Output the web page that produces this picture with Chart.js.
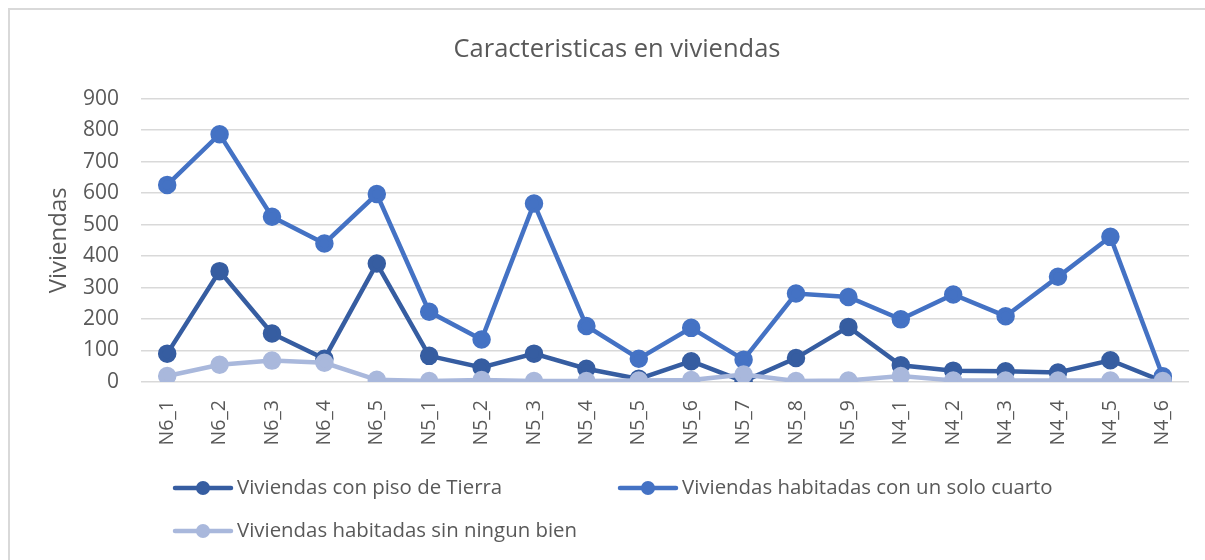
<!DOCTYPE html>
<html>
<head>
<meta charset="utf-8">
<script src="https://cdn.jsdelivr.net/npm/chart.js@4.4.0/dist/chart.umd.min.js"></script>
<style>
    body { margin: 0; background: #fff; }
    #wrap { position: relative; width: 1205px; height: 560px; overflow: hidden; }
    #frame {
        position: absolute; left: 8px; top: 8px; width: 1300px; height: 700px;
        border-top: 2px solid #d9d9d9; border-left: 2px solid #d9d9d9;
    }
    canvas { position: absolute; left: 0; top: 0; }
</style>
</head>
<body>
<div id="wrap">
    <div id="frame"></div>
    <canvas id="chart" width="1205" height="560"></canvas>
</div>
<script>
// 데이터
const categories = ['N6_1', 'N6_2', 'N6_3', 'N6_4', 'N6_5', 'N5_1', 'N5_2', 'N5_3', 'N5_4', 'N5_5',
    'N5_6', 'N5_7', 'N5_8', 'N5_9', 'N4_1', 'N4_2', 'N4_3', 'N4_4', 'N4_5', 'N4_6'];
const pisoTierra = [90, 352, 154, 74, 376, 83, 46, 90, 42, 10, 66, 2, 76, 175, 53, 36, 34, 30, 69, 2];
const soloCuarto = [626, 787, 525, 440, 597, 223, 135, 567, 178, 74, 172, 71, 281, 270, 199, 278, 209, 334, 461, 18];
const sinBien = [19, 55, 68, 61, 7, 3, 6, 3, 3, 5, 6, 24, 3, 5, 19, 5, 5, 5, 5, 3];
const yTicks = [0, 100, 200, 300, 400, 500, 600, 700, 800, 900];

const seriesNames = ['Viviendas con piso de Tierra', 'Viviendas habitadas con un solo cuarto', 'Viviendas habitadas sin ningun bien'];
const seriesColors = ['#365DA1', '#4472C4', '#A9B8DC'];

const FONT = '"Open Sans", "Liberation Sans", sans-serif';
const GREY = '#595959';

// 범례 (Excel 스타일 2열)
const legendSlots = [{ x: 175, y: 488 }, { x: 620, y: 488 }, { x: 175, y: 531 }];
const excelLegend = {
    id: 'excelLegend',
    afterDraw(chart) {
        const ctx = chart.ctx;
        ctx.save();
        chart.data.datasets.forEach((ds, i) => {
            const s = legendSlots[i];
            ctx.strokeStyle = ds.borderColor;
            ctx.lineWidth = 4.5;
            ctx.lineCap = 'round';
            ctx.beginPath();
            ctx.moveTo(s.x, s.y);
            ctx.lineTo(s.x + 56, s.y);
            ctx.stroke();
            ctx.fillStyle = ds.borderColor;
            ctx.beginPath();
            ctx.arc(s.x + 28, s.y, 7, 0, Math.PI * 2);
            ctx.fill();
            ctx.fillStyle = GREY;
            ctx.font = '20.4px ' + FONT;
            ctx.textBaseline = 'middle';
            ctx.textAlign = 'left';
            ctx.fillText(ds.label, s.x + 62, s.y);
        });
        ctx.restore();
    }
};

const datasets = [pisoTierra, soloCuarto, sinBien].map((vals, i) => ({
    label: seriesNames[i],
    data: vals,
    borderColor: seriesColors[i],
    backgroundColor: seriesColors[i],
    pointBackgroundColor: seriesColors[i],
    pointBorderColor: seriesColors[i],
    borderWidth: 4.5,
    pointRadius: 7,
    pointHoverRadius: 7,
    tension: 0,
    order: 3 - i
}));

new Chart(document.getElementById('chart'), {
    type: 'line',
    data: { labels: categories, datasets: datasets },
    options: {
        responsive: false,
        animation: false,
        layout: { padding: { left: 45, right: 16, top: 8, bottom: 98 } },
        plugins: {
            legend: { display: false },
            tooltip: { enabled: false },
            title: {
                display: true,
                text: 'Caracteristicas en viviendas',
                color: GREY,
                font: { family: FONT, size: 25.5, weight: 'normal' },
                padding: { top: 26, bottom: 34 }
            }
        },
        scales: {
            x: {
                offset: true,
                grid: { display: false },
                border: { display: false },
                ticks: {
                    color: GREY,
                    font: { family: FONT, size: 19.5 },
                    minRotation: 90,
                    maxRotation: 90,
                    padding: 10,
                    autoSkip: false
                },
                afterFit: scale => { scale.height = 80; }
            },
            y: {
                min: 0,
                max: 900,
                afterBuildTicks: scale => { scale.ticks = yTicks.map(v => ({ value: v })); },
                grid: { color: '#d9d9d9', lineWidth: 1.5, drawTicks: false },
                border: { display: false },
                ticks: {
                    color: GREY,
                    font: { family: FONT, size: 21 },
                    padding: 22
                },
                title: {
                    display: true,
                    text: 'Viviendas',
                    color: GREY,
                    font: { family: FONT, size: 24 },
                    padding: 0
                },
                afterFit: scale => { scale.width = 141 - 45; }
            }
        }
    },
    plugins: [excelLegend]
});
</script>
</body>
</html>
